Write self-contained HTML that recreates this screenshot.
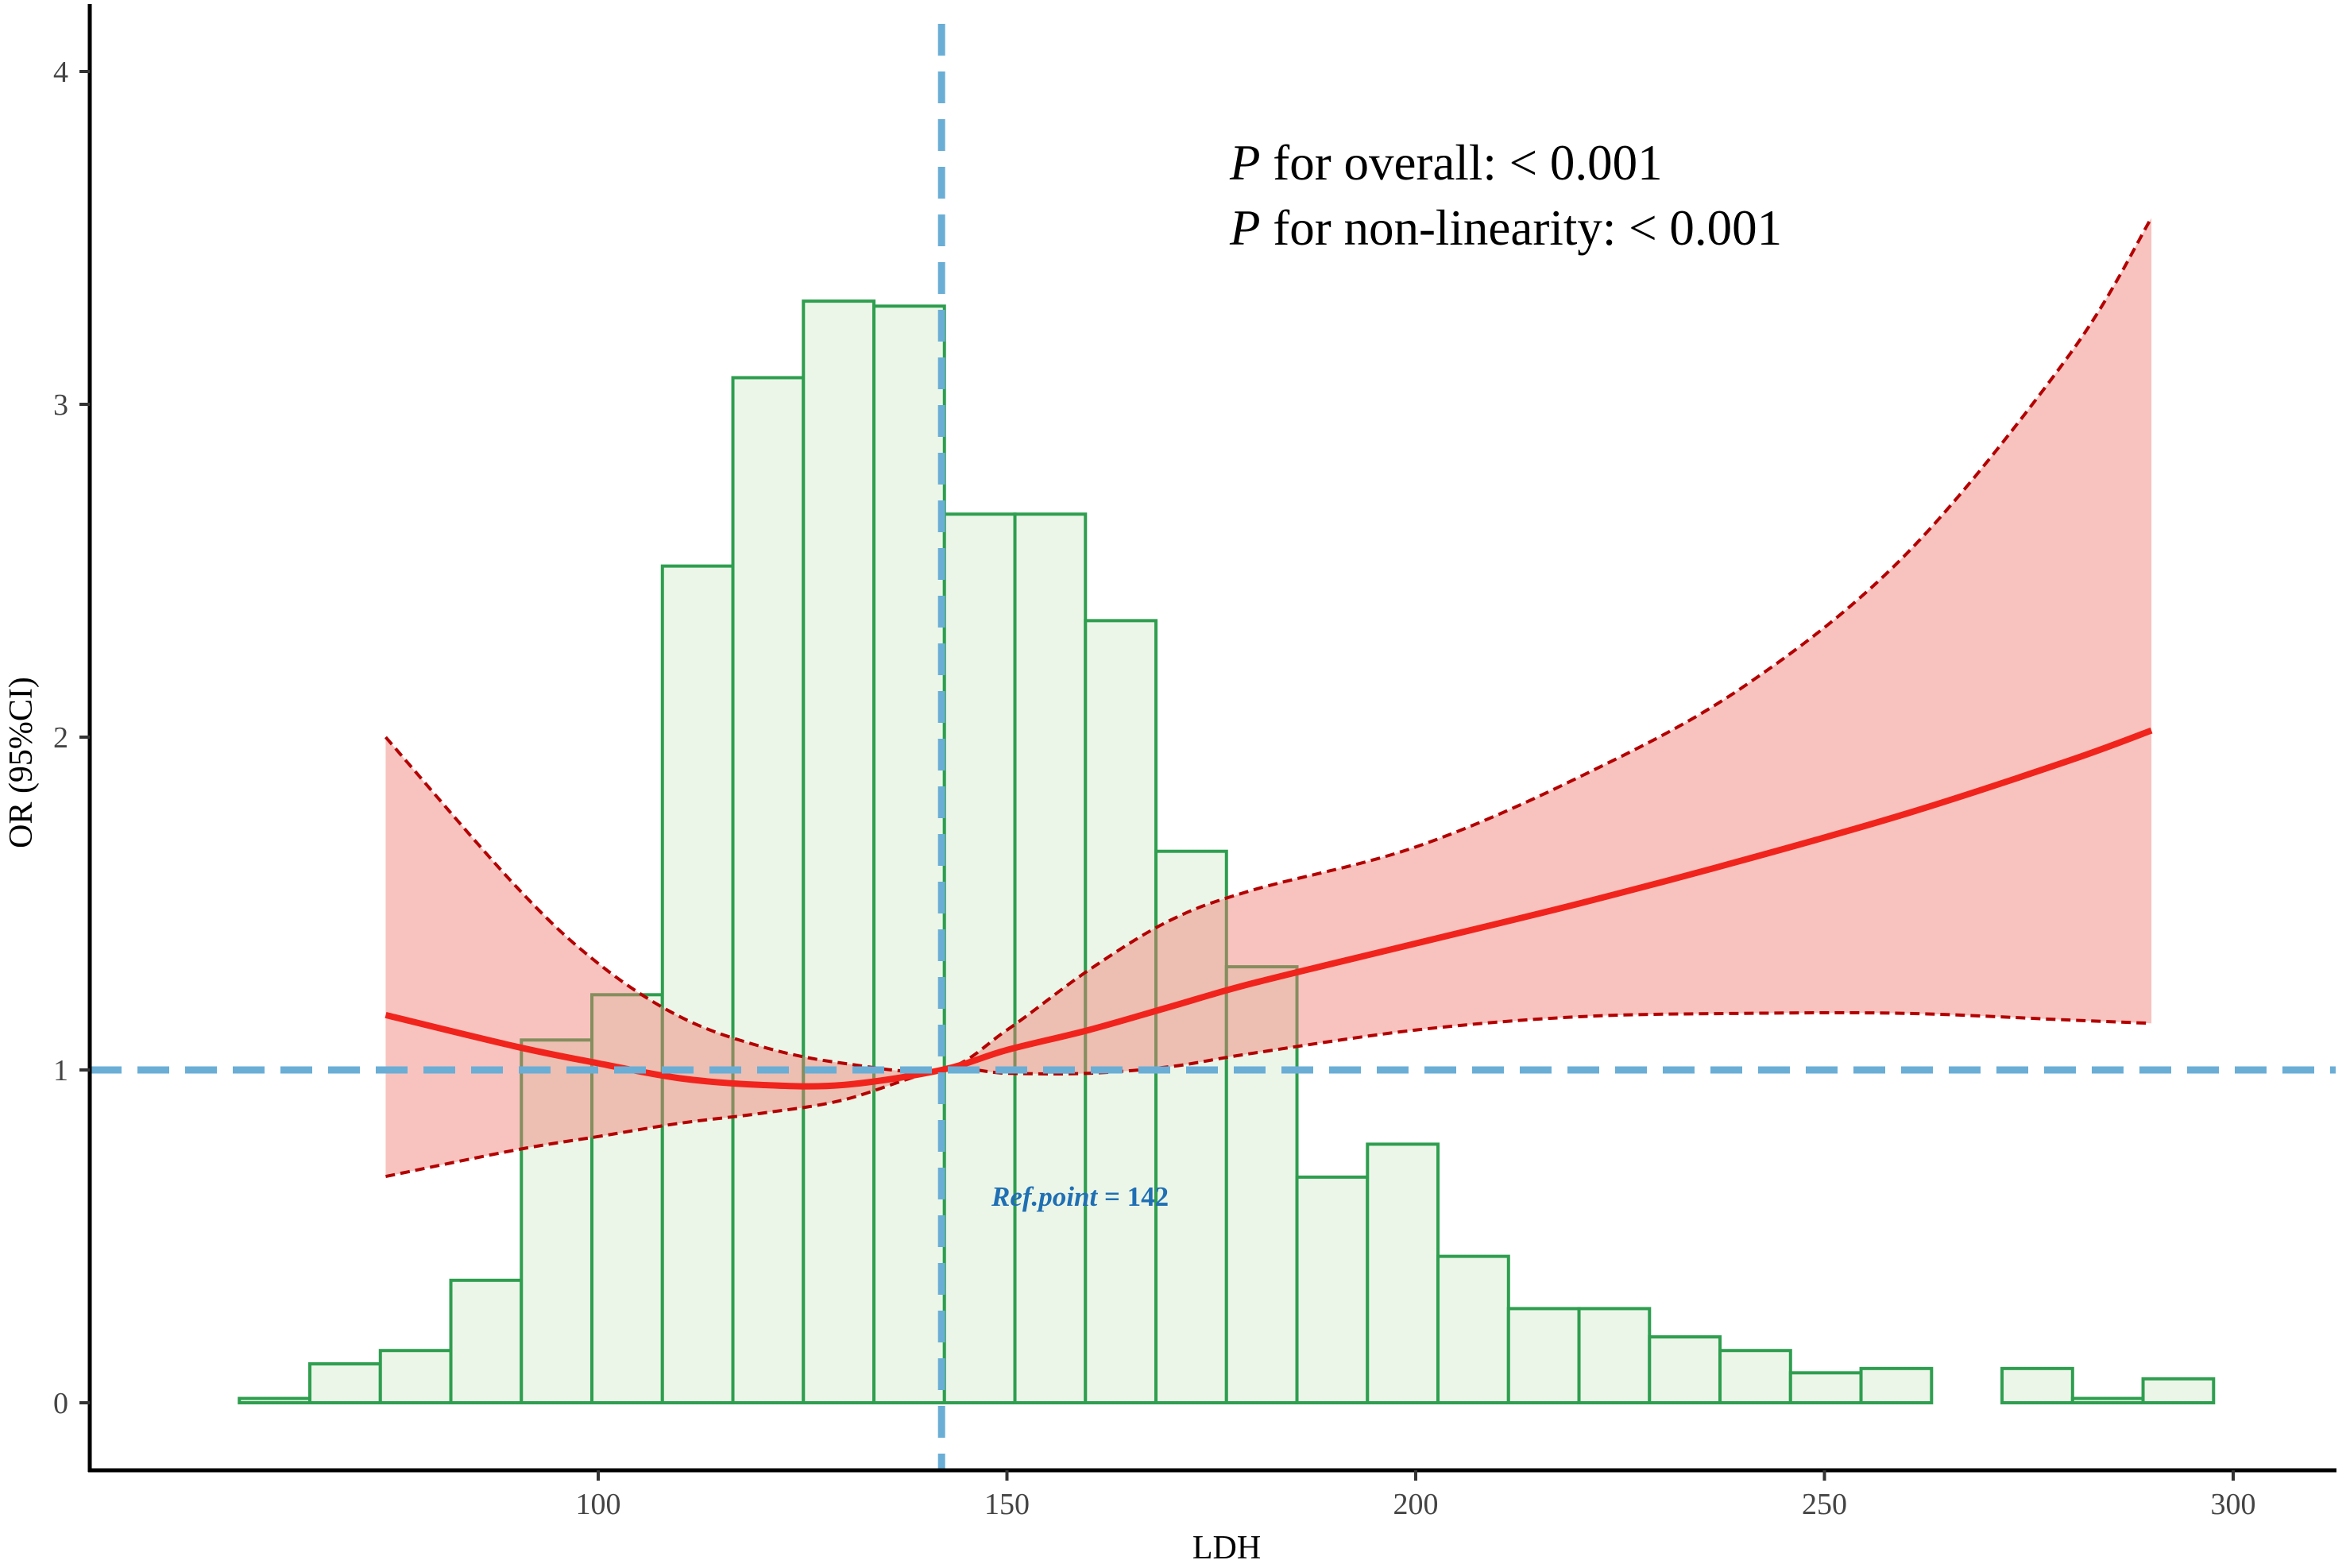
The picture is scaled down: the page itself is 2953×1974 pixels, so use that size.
<!DOCTYPE html>
<html><head><meta charset="utf-8"><style>
html,body{margin:0;padding:0;background:#fff;}
svg{display:block;}
text{font-family:"Liberation Serif",serif;}
</style></head><body>
<svg id="chart" width="2953" height="1974" viewBox="0 0 2953 1974" xmlns="http://www.w3.org/2000/svg"></svg>
<script>
const histStart = 56.1;
const histWidth = 8.625;
const histHeights = [0.013,0.117,0.157,0.368,1.09,1.226,2.514,3.08,3.31,3.295,2.67,2.67,2.35,1.657,1.31,0.678,0.777,0.44,0.283,0.283,0.198,0.157,0.09,0.103,0,0.103,0.013,0.072];
const curveX = [74,90,100,110,120,130,142,150,160,170,180,200,220,240,260,280,290];
const curveOR = [1.165,1.07,1.02,0.975,0.955,0.955,1.0,1.06,1.12,1.19,1.26,1.38,1.5,1.63,1.77,1.93,2.02];
const upperOR = [2.0,1.55,1.32,1.16,1.07,1.02,1.0,1.12,1.3,1.45,1.54,1.67,1.88,2.15,2.55,3.15,3.56];
const lowerOR = [0.68,0.76,0.8,0.84,0.87,0.91,1.0,0.99,0.99,1.01,1.05,1.12,1.16,1.17,1.17,1.15,1.14];
const xTicks = [100,150,200,250,300];
const yTicks = [0,1,2,3,4];
const refPoint = 142;
const refOR = 1;

const NS="http://www.w3.org/2000/svg";
const svg=document.getElementById('chart');
const X=v=>753+(v-100)*10.29;
const Y=v=>1766-419*v;
function mk(tag,attrs,parent){const e=document.createElementNS(NS,tag);for(const k in attrs)e.setAttribute(k,attrs[k]);(parent||svg).appendChild(e);return e;}
function smooth(xs,ys){
  const p=xs.map((x,i)=>[X(x),Y(ys[i])]);
  let d=`M${p[0][0]},${p[0][1]}`;
  for(let i=0;i<p.length-1;i++){
    const p0=p[Math.max(0,i-1)],p1=p[i],p2=p[i+1],p3=p[Math.min(p.length-1,i+2)];
    const c1=[p1[0]+(p2[0]-p0[0])/6,p1[1]+(p2[1]-p0[1])/6];
    const c2=[p2[0]-(p3[0]-p1[0])/6,p2[1]-(p3[1]-p1[1])/6];
    d+=` C${c1[0]},${c1[1]} ${c2[0]},${c2[1]} ${p2[0]},${p2[1]}`;
  }
  return d;
}
const hg=mk('g',{});


histHeights.forEach((h,i)=>{
  const x0=X(histStart+i*histWidth),x1=X(histStart+(i+1)*histWidth);
  const r=mk('rect',{x:x0,y:Y(h),width:x1-x0,height:Y(0)-Y(h),fill:'#ebf6e8',stroke:'#2e9e4f','stroke-width':4},hg);
  
  
});
const up=smooth(curveX,upperOR);
const lo=smooth(curveX.slice().reverse(),lowerOR.slice().reverse());
const rib=mk('path',{d:up+' L'+lo.slice(1)+' Z',fill:'#f07a70','fill-opacity':0.45,stroke:'none'});


const ul=mk('path',{d:up,fill:'none',stroke:'#b30000','stroke-width':4,'stroke-dasharray':'12 7'});


const ll=mk('path',{d:smooth(curveX,lowerOR),fill:'none',stroke:'#b30000','stroke-width':4,'stroke-dasharray':'12 7'});


const ml=mk('path',{d:smooth(curveX,curveOR),fill:'none',stroke:'#f0241c','stroke-width':8});


const hl=mk('line',{x1:113,x2:2940,y1:Y(refOR),y2:Y(refOR),stroke:'#6aaed6','stroke-width':9,'stroke-dasharray':'40 20'});


const vl=mk('line',{x1:X(refPoint),x2:X(refPoint),y1:30,y2:1851,stroke:'#6aaed6','stroke-width':9,'stroke-dasharray':'40 20'});


const ya=mk('line',{x1:113,x2:113,y1:5,y2:1853,stroke:'#000','stroke-width':5});


const xa=mk('line',{x1:111,x2:2941,y1:1851,y2:1851,stroke:'#000','stroke-width':5});


yTicks.forEach(v=>{
  mk('line',{x1:100,x2:113,y1:Y(v),y2:Y(v),stroke:'#333','stroke-width':4});
  const t=mk('text',{x:86,y:Y(v)+13,'text-anchor':'end','font-size':38,fill:'#444'});
  t.textContent=v;
  
  
});
xTicks.forEach(v=>{
  mk('line',{x1:X(v),x2:X(v),y1:1851,y2:1864,stroke:'#333','stroke-width':4});
  const t=mk('text',{x:X(v),y:1906,'text-anchor':'middle','font-size':38,fill:'#444'});
  t.textContent=v;
  
  
});
</script>
<svg style="position:absolute;left:0;top:0" width="2953" height="1974">
<text x="1544" y="1962" text-anchor="middle" font-size="42" fill="#000" font-family="Liberation Serif, serif">LDH</text>
<text transform="translate(40,960) rotate(-90)" text-anchor="middle" font-size="42" fill="#000" font-family="Liberation Serif, serif">OR (95%CI)</text>
<text x="1548" y="226" font-size="63" fill="#000" font-family="Liberation Serif, serif"><tspan font-style="italic">P</tspan> for overall: &lt; 0.001</text>
<text x="1548" y="308" font-size="63" fill="#000" font-family="Liberation Serif, serif"><tspan font-style="italic">P</tspan> for non-linearity: &lt; 0.001</text>
<text x="1248" y="1518" font-size="35" font-weight="bold" fill="#1f6fb4" font-family="Liberation Serif, serif"><tspan font-style="italic">Ref.point</tspan> = 142</text>
</svg>
</body></html>
